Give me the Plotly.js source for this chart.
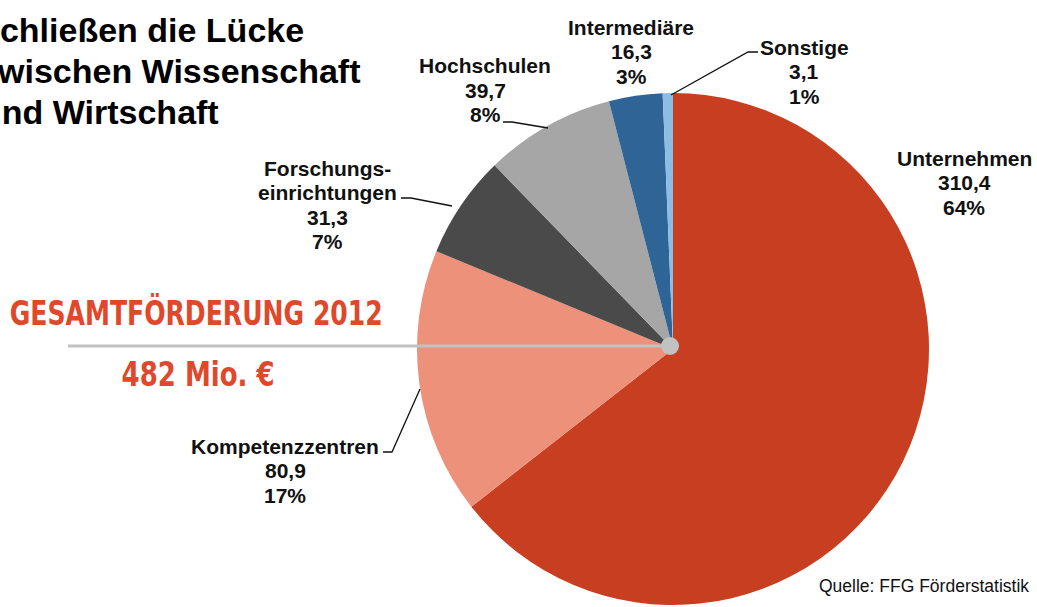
<!DOCTYPE html>
<html>
<head>
<meta charset="utf-8">
<script src="https://cdn.plot.ly/plotly-3.0.1.min.js"></script>
<style>html,body{margin:0;padding:0;background:#fff;overflow:hidden}#chart{width:1037px;height:607px}</style>
</head>
<body>
<div id="chart"></div>
<script>
// ---- data ----
const categories = ['Unternehmen', 'Kompetenzzentren', 'Forschungseinrichtungen', 'Hochschulen', 'Intermediäre', 'Sonstige'];
const labelLines = [['Unternehmen'], ['Kompetenzzentren'], ['Forschungs-', 'einrichtungen'], ['Hochschulen'], ['Intermediäre'], ['Sonstige']];
const values = [310.4, 80.9, 31.3, 39.7, 16.3, 3.1];
const percents = ['64%', '17%', '7%', '8%', '3%', '1%'];
const colors = ['#C83E20', '#ED917A', '#4A4A4A', '#A6A6A6', '#2E6496', '#8DBDE3'];
const titleLines = ['schließen die Lücke', 'zwischen Wissenschaft', 'und Wirtschaft'];
const totalHeader = 'GESAMTFÖRDERUNG 2012';
const totalValue = '482 Mio. €';
const sourceText = 'Quelle: FFG Förderstatistik';

// ---- layout helpers (pixel -> paper) ----
const W = 1037, H = 607;
const px = x => x / W;
const py = y => 1 - y / H;
const P = pts => pts.map((p, i) => (i ? 'L ' : 'M ') + px(p[0]) + ' ' + py(p[1])).join(' ');

const cx = 673, cy = 349, r = 256;

// label anchor positions (pixel centres of the label block) and leader paths
const labelPos = [[964, 183], [285, 471], [327, 205], [485, 90], [631, 52], [804, 72]];
const leaders = [
  null,
  [[383, 452], [392, 452], [420, 389]],
  [[401, 198], [411, 198], [452, 206]],
  [[503, 122], [512, 122], [548, 128]],
  null,
  [[671, 95], [748, 52], [758, 52]]
];

const fmt = v => String(v).replace('.', ',');
const annotations = [];

function addLines(lines, x, yCenter, spacing, xanchor, font) {
  const n = lines.length;
  lines.forEach((t, k) => {
    annotations.push({
      xref: 'paper', yref: 'paper',
      x: px(x), y: py(yCenter + (k - (n - 1) / 2) * spacing),
      xanchor: xanchor, yanchor: 'middle', align: xanchor === 'left' ? 'left' : 'center',
      showarrow: false, text: t, font: font
    });
  });
}

const labelFont = {family: 'Liberation Sans, Arial, sans-serif', size: 21, color: '#111', weight: 'bold'};
categories.forEach((c, i) => {
  addLines(labelLines[i].concat([fmt(values[i]), percents[i]]), labelPos[i][0], labelPos[i][1], 24.5, 'center', labelFont);
});
addLines(titleLines, -21, 71, 41, 'left', {family: 'Liberation Sans, Arial, sans-serif', size: 34, color: '#000', weight: 'bold'});

const totalFont = {family: 'DejaVu Sans, sans-serif', size: 33, color: '#E0482B', weight: 'bold'};
addLines([totalHeader], 196, 313, 0, 'center', totalFont);
addLines([totalValue], 198, 374, 0, 'center', totalFont);

addLines([sourceText], 1031, 586, 0, 'right', {family: 'Liberation Sans, Arial, sans-serif', size: 17.5, color: '#111'});

const shapes = [];
leaders.forEach(l => {
  if (l) shapes.push({type: 'path', xref: 'paper', yref: 'paper', path: P(l), line: {color: '#111', width: 1.3}});
});
shapes.push({type: 'line', xref: 'paper', yref: 'paper', x0: px(68), y0: py(346), x1: px(670), y1: py(346), line: {color: '#C2C2C2', width: 3}});
shapes.push({type: 'circle', xref: 'paper', yref: 'paper', x0: px(661), x1: px(679), y0: py(355), y1: py(337), fillcolor: '#C2C2C2', line: {width: 0}});

const trace = {
  type: 'pie',
  labels: categories,
  values: values,
  sort: false,
  direction: 'clockwise',
  rotation: 0,
  textinfo: 'none',
  hoverinfo: 'label+value+percent',
  marker: {colors: colors, line: {width: 0}},
  domain: {x: [px(cx - r), px(cx + r)], y: [py(cy + r), py(cy - r)]},
  showlegend: false
};

const layout = {
  width: W, height: H,
  margin: {l: 0, r: 0, t: 0, b: 0},
  paper_bgcolor: '#fff',
  showlegend: false,
  annotations: annotations,
  shapes: shapes
};

Plotly.newPlot('chart', [trace], layout, {displayModeBar: false, staticPlot: true}).then(gd => {
  // condense the headline texts to the reference widths
  const targets = {};
  targets[totalHeader] = 373;
  targets[totalValue] = 153;
  gd.querySelectorAll('.annotation-text').forEach(t => {
    const w = targets[t.textContent];
    if (w) {
      t.setAttribute('textLength', w);
      t.setAttribute('lengthAdjust', 'spacingAndGlyphs');
    }
  });
});
</script>
</body>
</html>
